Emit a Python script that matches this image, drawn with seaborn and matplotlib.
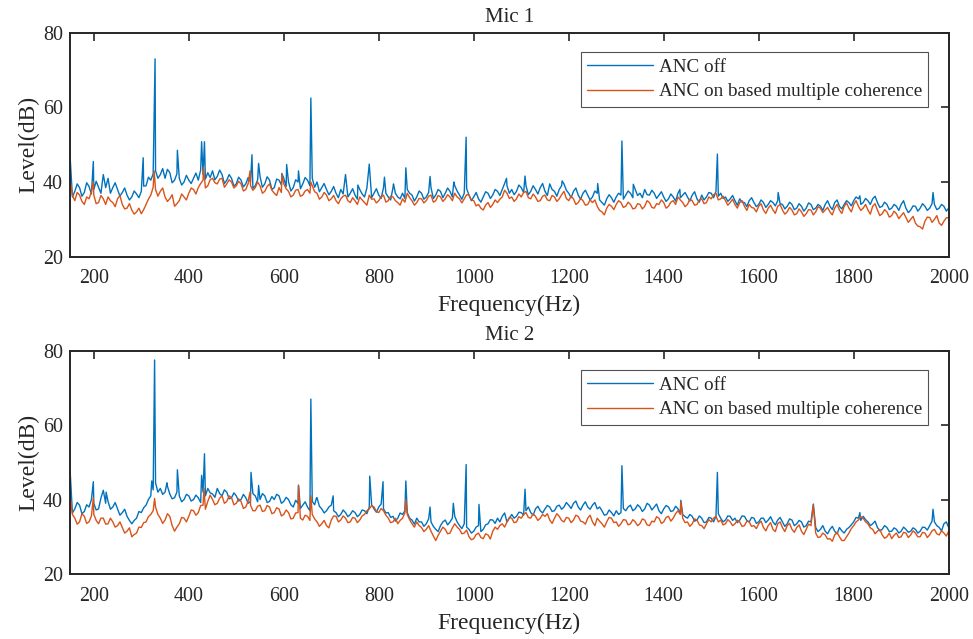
import numpy as np
import pandas as pd
import matplotlib
matplotlib.use("Agg")
import matplotlib.pyplot as plt
import seaborn as sns

# frequency grid (Hz), 5 Hz steps; narrow tonal peaks are listed separately
freq = np.arange(150, 2001, 5)

# ---- Mic 1 ----  (one row = 100 Hz)
mic1_off = [
    47.0, 36.0, 37.5, 39.5, 38.5, 36.2, 37.2, 39.8, 38.8, 36.8, 38.0, 40.2, 38.6, 37.0, 42.0, 38.5, 41.0, 37.0, 38.5, 39.8,
    38.0, 36.2, 37.2, 38.4, 36.5, 35.2, 36.0, 37.6, 36.8, 35.8, 37.5, 38.9, 39.0, 41.3, 40.5, 42.2, 43.0, 41.0, 42.0, 43.6,
    41.0, 43.4, 42.5, 39.8, 40.5, 42.2, 41.0, 39.2, 40.0, 41.8, 40.5, 39.6, 41.0, 42.4, 40.5, 43.2, 42.0, 40.8, 42.5, 41.2,
    43.0, 40.6, 41.5, 43.2, 42.0, 39.6, 40.5, 42.0, 41.0, 38.9, 39.5, 41.3, 40.5, 38.7, 39.5, 41.2, 40.0, 38.3, 39.0, 40.6,
    41.5, 38.6, 39.5, 41.4, 40.5, 38.0, 38.5, 40.8, 40.5, 39.2, 41.0, 38.8, 40.0, 37.6, 38.5, 40.6, 40.0, 38.2, 39.5, 41.2,
    40.5, 39.0, 41.0, 38.6, 40.0, 37.4, 38.5, 39.6, 38.0, 36.6, 37.5, 38.8, 37.0, 35.8, 38.0, 36.8, 39.5, 36.0, 37.0, 38.2,
    36.5, 35.4, 38.0, 36.8, 36.0, 38.4, 37.5, 35.8, 37.0, 38.2, 36.5, 35.6, 38.5, 37.0, 36.0, 35.2, 38.5, 37.0, 36.0, 35.5,
    37.0, 35.6, 38.0, 37.0, 36.5, 34.9, 36.0, 37.6, 37.0, 35.4, 36.0, 37.2, 38.5, 35.6, 36.5, 38.0, 37.5, 35.8, 37.0, 38.4,
    37.5, 36.0, 39.0, 37.6, 36.5, 35.4, 37.0, 38.2, 36.5, 35.0, 36.0, 37.2, 35.5, 34.6, 36.0, 37.4, 37.0, 35.6, 36.5, 38.0,
    37.5, 36.4, 38.0, 39.6, 39.0, 37.0, 38.0, 36.6, 37.5, 39.2, 38.5, 37.2, 39.0, 36.6, 37.5, 39.0, 38.0, 36.8, 38.5, 39.6,
    37.5, 36.4, 39.5, 38.0, 37.5, 36.2, 38.0, 39.0, 39.5, 37.8, 37.0, 35.8, 37.5, 38.4, 36.5, 35.4, 37.0, 37.8, 36.5, 35.2,
    36.0, 37.6, 37.0, 35.2, 34.5, 33.8, 35.5, 36.6, 35.8, 34.6, 36.0, 37.0, 36.5, 35.4, 36.5, 37.6, 37.0, 35.8, 38.0, 36.4,
    37.0, 35.8, 38.0, 36.6, 36.5, 37.8, 37.0, 35.6, 36.5, 37.4, 36.0, 34.8, 35.5, 36.8, 36.0, 34.9, 37.0, 35.8, 36.5, 37.2,
    36.0, 34.9, 36.5, 37.4, 35.5, 34.6, 36.5, 35.2, 36.0, 37.2, 37.0, 35.8, 37.5, 36.2, 37.0, 35.6, 36.0, 34.8, 35.5, 36.4,
    35.0, 33.8, 35.5, 34.6, 34.5, 33.4, 35.0, 35.8, 34.5, 33.4, 34.0, 35.2, 34.5, 33.2, 34.0, 35.0, 34.5, 33.6, 35.0, 34.2,
    34.0, 32.8, 33.5, 34.6, 34.0, 32.6, 33.0, 34.2, 33.5, 32.2, 33.0, 34.4, 34.0, 32.6, 33.0, 34.0, 33.5, 32.4, 34.0, 35.0,
    33.5, 32.6, 34.5, 35.2, 33.5, 32.8, 34.0, 35.0, 34.5, 33.6, 35.0, 36.0, 35.5, 34.0, 34.5, 35.6, 35.0, 34.0, 35.5, 36.2,
    34.5, 33.2, 33.5, 34.6, 34.0, 32.6, 33.0, 34.0, 33.5, 32.4, 34.0, 35.0, 33.0, 31.8, 32.5, 33.6, 33.5, 32.2, 33.0, 34.2,
    33.5, 32.4, 33.0, 34.2, 34.0, 32.6, 33.0, 34.0, 33.5, 32.2, 33.0,
]
mic1_off_peak_f = [199, 304, 329, 376, 427, 433, 533, 547, 596, 606, 631, 657, 730,
                   756, 780, 812, 831, 857, 908, 958, 984, 1069, 1108, 1186, 1261,
                   1312, 1336, 1434, 1513, 1641, 1813, 1967]
mic1_off_peak_v = [45.5, 46.5, 73.0, 48.5, 50.8, 50.8, 47.3, 45.0, 42.3, 44.7, 43.0, 62.5, 42.0,
                   39.2, 44.8, 41.3, 39.5, 43.8, 41.5, 40.0, 52.0, 41.0, 41.6, 40.3, 39.6,
                   51.0, 39.4, 38.0, 47.5, 37.2, 36.3, 37.2]

mic1_on = [
    40.5, 36.4, 35.0, 37.2, 36.5, 34.8, 34.0, 36.0, 35.5, 37.4, 36.5, 34.2, 34.5, 36.4, 35.5, 34.0, 36.0, 35.0, 34.5, 33.4,
    35.5, 36.4, 34.0, 32.8, 33.0, 34.2, 32.5, 31.4, 32.0, 33.0, 31.5, 32.6, 34.0, 35.4, 36.5, 38.6, 38.0, 36.2, 37.5, 38.4,
    36.0, 34.8, 35.5, 36.6, 33.5, 34.2, 35.0, 36.8, 36.0, 35.2, 37.0, 38.4, 38.0, 36.8, 38.5, 39.6, 40.5, 38.4, 39.0, 40.6,
    41.0, 39.8, 39.5, 40.8, 41.0, 38.6, 39.5, 40.6, 40.0, 38.4, 39.0, 40.2, 39.5, 37.6, 38.0, 39.6, 39.0, 37.8, 38.5, 40.0,
    39.0, 37.0, 37.5, 38.8, 39.5, 37.8, 37.0, 36.4, 38.5, 37.2, 39.5, 38.2, 37.5, 36.0, 36.5, 37.8, 38.0, 36.2, 36.5, 37.6,
    38.0, 37.0, 39.0, 37.4, 37.0, 35.4, 36.0, 37.2, 36.5, 35.0, 35.5, 36.4, 35.0, 34.2, 35.5, 36.2, 36.5, 35.0, 34.5, 35.8,
    35.0, 34.0, 36.0, 35.2, 34.5, 33.8, 36.5, 35.4, 35.5, 34.4, 35.0, 36.0, 36.5, 34.6, 35.0, 36.2, 36.0, 35.0, 34.5, 33.8,
    35.5, 34.6, 37.0, 35.8, 35.0, 33.8, 34.5, 35.6, 35.5, 34.4, 35.0, 36.2, 36.5, 34.6, 35.0, 36.4, 36.0, 34.8, 35.5, 36.6,
    36.0, 35.0, 37.0, 36.0, 35.5, 34.4, 35.5, 36.6, 36.5, 35.2, 35.0, 33.6, 34.0, 33.0, 32.5, 33.8, 34.5, 33.2, 34.0, 35.2,
    34.5, 35.4, 36.0, 37.8, 37.0, 35.6, 36.0, 34.8, 35.5, 36.8, 36.0, 37.2, 37.5, 35.8, 35.5, 36.8, 36.0, 34.8, 35.0, 36.2,
    36.5, 35.2, 35.0, 36.4, 36.0, 34.8, 35.5, 36.6, 37.5, 35.6, 35.0, 36.2, 35.5, 34.0, 34.5, 35.6, 35.0, 33.8, 34.0, 35.2,
    34.5, 35.2, 33.5, 32.4, 32.0, 31.2, 33.0, 34.0, 33.5, 32.6, 34.0, 35.0, 34.5, 33.2, 33.5, 34.6, 34.0, 32.8, 33.0, 34.2,
    34.0, 32.8, 33.5, 35.0, 34.5, 33.2, 33.0, 34.2, 34.0, 35.2, 34.5, 33.0, 33.5, 34.6, 35.0, 34.0, 36.0, 35.2, 34.5, 33.4,
    34.0, 35.4, 35.0, 33.8, 34.0, 35.2, 35.5, 34.2, 34.5, 36.0, 35.5, 36.6, 37.0, 35.2, 35.5, 36.2, 35.0, 33.8, 34.5, 35.4,
    34.0, 33.0, 34.5, 35.0, 33.5, 32.4, 34.0, 33.2, 33.0, 32.0, 33.5, 34.2, 32.5, 31.6, 33.0, 33.8, 32.5, 31.6, 33.5, 34.0,
    32.5, 31.4, 32.0, 33.2, 32.5, 31.2, 31.5, 32.8, 32.0, 30.8, 31.5, 32.6, 32.5, 31.2, 32.0, 33.4, 33.0, 31.8, 32.5, 33.2,
    32.0, 31.2, 33.0, 34.0, 32.5, 31.6, 33.5, 34.4, 33.0, 32.0, 34.0, 35.0, 33.5, 32.4, 33.0, 34.0, 32.5, 31.4, 33.5, 34.2,
    32.5, 31.0, 31.5, 32.6, 32.0, 30.6, 31.0, 32.2, 31.5, 30.2, 31.0, 31.8, 30.5, 29.2, 30.0, 30.8, 29.0, 28.2, 28.0, 27.4,
    29.5, 30.6, 30.5, 29.2, 30.0, 31.0, 29.0, 28.4, 29.5, 30.4, 30.5,
]
mic1_on_peak_f = [199, 327, 431, 529, 596, 657]
mic1_on_peak_v = [40.0, 43.0, 44.0, 43.0, 42.0, 40.0]

# ---- Mic 2 ----
mic2_off = [
    48.0, 36.4, 37.5, 39.2, 38.5, 36.2, 36.8, 38.6, 38.0, 40.0, 39.0, 37.2, 37.5, 40.4, 42.5, 39.0, 39.5, 37.4, 38.0, 39.2,
    37.5, 35.8, 36.5, 37.4, 35.5, 34.4, 33.5, 34.4, 35.0, 36.8, 36.5, 37.8, 38.5, 40.0, 41.0, 42.6, 44.5, 42.0, 43.0, 41.4,
    42.0, 43.6, 41.5, 40.2, 40.5, 42.0, 41.0, 39.4, 40.0, 41.4, 41.0, 39.6, 40.0, 41.2, 40.5, 39.2, 42.0, 41.0, 43.0, 41.8,
    41.5, 40.6, 43.0, 41.6, 41.0, 42.6, 42.0, 40.2, 40.5, 41.8, 41.0, 39.6, 40.0, 41.4, 40.5, 39.0, 39.5, 41.6, 41.0, 39.4,
    40.0, 41.6, 41.0, 39.2, 39.5, 40.8, 40.0, 41.4, 41.0, 39.0, 39.5, 40.6, 40.0, 38.6, 38.0, 39.8, 39.0, 37.6, 38.5, 39.4,
    38.0, 37.0, 39.5, 38.6, 40.5, 38.2, 37.5, 36.4, 37.0, 38.0, 38.5, 37.0, 36.5, 35.4, 36.0, 37.2, 36.5, 35.4, 36.0, 37.0,
    36.5, 35.4, 36.0, 37.2, 37.0, 36.2, 38.0, 38.6, 37.5, 36.6, 38.0, 38.8, 37.5, 36.4, 36.5, 35.2, 35.5, 34.2, 35.0, 36.4,
    36.0, 37.0, 36.5, 35.0, 34.5, 33.4, 35.0, 34.0, 34.0, 32.8, 33.5, 34.8, 34.0, 32.8, 32.0, 31.4, 33.0, 34.0, 34.5, 33.2,
    34.0, 35.0, 35.5, 34.0, 33.0, 32.2, 33.5, 32.6, 32.0, 31.0, 31.5, 32.6, 33.0, 31.4, 32.0, 33.2, 33.5, 34.6, 34.5, 33.6,
    35.0, 34.0, 35.5, 36.4, 34.0, 35.0, 36.0, 35.0, 35.5, 36.6, 36.5, 35.8, 37.0, 38.0, 36.5, 35.8, 37.5, 38.2, 37.0, 36.4,
    37.5, 38.4, 38.0, 36.8, 37.0, 38.2, 38.5, 37.4, 38.0, 39.2, 38.5, 37.6, 39.0, 39.6, 38.0, 37.2, 38.5, 39.4, 38.0, 37.4,
    38.5, 39.2, 37.5, 38.0, 37.0, 35.8, 36.0, 37.2, 36.5, 35.6, 37.0, 36.0, 36.5, 37.6, 37.0, 38.0, 38.5, 37.0, 37.5, 38.6,
    38.0, 36.8, 37.5, 39.0, 38.5, 37.2, 38.0, 38.8, 37.0, 36.2, 37.5, 38.4, 38.0, 36.8, 37.0, 38.2, 37.5, 36.4, 36.0, 35.4,
    35.0, 36.0, 35.5, 34.2, 34.5, 35.6, 35.0, 33.8, 34.0, 35.2, 35.0, 34.0, 35.5, 36.2, 35.0, 34.0, 34.5, 35.6, 35.5, 34.4,
    35.0, 33.8, 34.5, 35.6, 35.5, 34.4, 34.0, 35.2, 35.0, 33.6, 34.0, 35.0, 35.0, 33.8, 34.5, 35.4, 34.0, 33.2, 34.5, 35.2,
    34.0, 32.8, 33.5, 34.8, 34.5, 33.0, 33.5, 34.4, 34.0, 32.6, 33.0, 34.2, 34.0, 33.0, 32.5, 31.4, 32.0, 33.0, 31.5, 30.8,
    32.0, 32.8, 31.5, 30.8, 32.5, 31.6, 31.0, 32.0, 32.5, 33.2, 34.0, 35.2, 35.0, 34.4, 35.5, 34.6, 34.0, 33.0, 33.5, 34.2,
    32.5, 31.6, 32.0, 33.0, 32.5, 31.4, 31.5, 32.4, 32.0, 31.0, 31.5, 32.6, 32.0, 31.2, 31.5, 32.4, 32.0, 31.0, 31.5, 32.6,
    32.5, 31.8, 33.0, 34.2, 34.0, 33.0, 32.5, 31.6, 33.5, 34.0, 32.5,
]
mic2_off_peak_f = [199, 226, 322, 328, 354, 376, 427, 433, 531, 547, 631, 657, 669, 704,
                   781, 809, 857, 908, 957, 984, 1011, 1108, 1312, 1436, 1513, 1715,
                   1813, 1967]
mic2_off_peak_v = [44.8, 42.0, 45.0, 77.5, 44.5, 48.0, 46.5, 52.3, 47.3, 43.8, 43.9, 67.0, 40.5, 41.0,
                   46.3, 44.8, 45.0, 38.0, 39.0, 49.4, 38.7, 42.8, 49.1, 39.8, 47.3, 38.8,
                   36.5, 37.4]

mic2_on = [
    41.0, 36.0, 35.0, 33.4, 34.0, 36.2, 35.5, 33.6, 34.0, 35.6, 36.0, 34.4, 33.5, 35.0, 35.0, 33.4, 33.5, 35.0, 34.0, 32.6,
    33.0, 34.0, 32.5, 31.0, 31.5, 32.4, 30.0, 30.6, 31.0, 32.6, 32.5, 33.8, 34.0, 35.4, 36.0, 37.0, 38.0, 36.0, 35.0, 33.6,
    34.5, 36.2, 35.5, 33.0, 31.5, 32.6, 33.5, 35.2, 35.0, 34.0, 35.5, 37.2, 37.0, 35.8, 36.5, 38.4, 38.5, 37.4, 39.5, 41.2,
    40.0, 38.6, 39.0, 40.4, 41.0, 39.0, 39.5, 41.0, 40.5, 38.6, 39.0, 40.2, 39.5, 37.6, 38.0, 39.6, 38.5, 37.0, 37.0, 38.2,
    38.5, 36.8, 37.0, 38.4, 38.0, 36.2, 36.5, 37.8, 37.5, 35.6, 36.0, 37.2, 36.5, 34.8, 35.0, 36.4, 36.5, 35.0, 34.5, 35.8,
    35.5, 34.4, 36.0, 34.8, 34.0, 32.8, 33.5, 34.4, 33.0, 32.4, 34.5, 35.6, 35.5, 34.0, 34.5, 35.6, 35.0, 33.8, 34.0, 35.2,
    35.0, 33.8, 34.5, 35.6, 36.0, 37.0, 37.5, 38.4, 38.0, 36.8, 36.5, 37.6, 37.0, 35.8, 35.0, 33.8, 34.0, 35.0, 33.5, 34.4,
    35.0, 36.4, 36.0, 34.6, 33.5, 32.6, 34.0, 33.0, 32.5, 31.4, 32.0, 33.0, 31.5, 30.2, 29.0, 30.4, 31.5, 32.6, 32.0, 30.8,
    31.0, 32.4, 33.5, 32.6, 32.0, 30.8, 31.0, 31.8, 30.0, 29.2, 29.5, 30.6, 31.0, 29.8, 29.5, 30.8, 30.5, 29.4, 31.5, 32.6,
    32.0, 33.0, 33.5, 32.6, 34.0, 35.2, 35.0, 33.8, 34.0, 35.4, 35.0, 36.0, 36.5, 35.2, 35.0, 36.2, 35.5, 34.4, 35.0, 36.0,
    35.5, 36.2, 34.5, 33.6, 35.0, 36.2, 35.5, 34.4, 34.0, 35.2, 35.0, 33.8, 34.5, 35.8, 35.5, 34.2, 34.0, 33.4, 35.0, 35.8,
    34.0, 33.0, 35.0, 34.2, 33.5, 32.6, 34.0, 35.2, 35.0, 33.8, 34.0, 32.8, 33.5, 34.6, 34.5, 33.2, 33.5, 34.6, 34.0, 33.0,
    33.5, 34.8, 34.5, 33.2, 33.0, 34.2, 34.0, 35.4, 35.0, 33.6, 34.0, 35.2, 35.5, 34.2, 35.0, 36.2, 37.0, 36.0, 35.0, 33.8,
    34.0, 32.8, 33.5, 34.8, 34.5, 33.2, 33.0, 32.2, 33.5, 34.6, 34.0, 35.0, 35.5, 34.0, 34.5, 33.2, 33.5, 34.6, 34.0, 33.0,
    33.5, 34.4, 34.0, 32.8, 33.0, 34.2, 34.0, 32.8, 33.0, 32.2, 33.5, 34.2, 32.5, 31.6, 33.0, 33.8, 32.0, 31.4, 33.5, 34.0,
    32.5, 31.4, 33.0, 33.6, 32.0, 31.2, 32.5, 33.2, 31.5, 30.6, 32.0, 33.4, 33.0, 32.0, 31.0, 29.8, 30.0, 31.0, 30.5, 29.4,
    29.5, 28.8, 30.5, 31.2, 30.0, 29.0, 29.0, 30.0, 31.0, 32.2, 33.0, 34.0, 34.5, 35.4, 35.0, 34.0, 33.5, 32.4, 32.0, 30.8,
    31.5, 32.0, 30.5, 29.6, 30.0, 31.0, 29.5, 30.4, 31.0, 29.8, 30.0, 31.2, 31.0, 29.8, 30.5, 31.6, 31.0, 30.0, 30.0, 31.2,
    31.0, 29.8, 30.5, 31.6, 32.0, 30.8, 30.5, 31.6, 31.0, 30.2, 31.5,
]
mic2_on_peak_f = [199, 328, 432, 529, 631, 657, 857, 1436, 1715]
mic2_on_peak_v = [40.5, 40.3, 43.0, 42.0, 43.7, 41.0, 40.0, 39.4, 38.5]

labels = ["ANC off", "ANC on based multiple coherence"]
colors = ["#0072BD", "#D95319"]


def build(base, pf, pv):
    s = pd.concat([pd.Series(base, index=freq), pd.Series(pv, index=pf)])
    s = s[~s.index.duplicated(keep="last")].sort_index()
    return s


sns.set_style("white")
plt.rcParams["font.family"] = ["Liberation Serif", "DejaVu Serif"]

fig = plt.figure(figsize=(9.73, 6.39), dpi=100)
ax1 = fig.add_axes([0.072, 0.5983, 0.903, 0.3505])
ax2 = fig.add_axes([0.072, 0.1017, 0.903, 0.3495])

panels = [
    (ax1, "Mic 1", (mic1_off, mic1_off_peak_f, mic1_off_peak_v), (mic1_on, mic1_on_peak_f, mic1_on_peak_v)),
    (ax2, "Mic 2", (mic2_off, mic2_off_peak_f, mic2_off_peak_v), (mic2_on, mic2_on_peak_f, mic2_on_peak_v)),
]

for ax, title, off, on in panels:
    frames = []
    for lab, d in zip(labels, [off, on]):
        s = build(*d)
        frames.append(pd.DataFrame({"freq": s.index, "level": s.values, "series": lab}))
    df = pd.concat(frames, ignore_index=True)
    sns.lineplot(data=df, x="freq", y="level", hue="series", palette=colors,
                 hue_order=labels, estimator=None, sort=False, linewidth=1.0, ax=ax)
    ax.set_xlim(150, 2000)
    ax.set_ylim(20, 80)
    ax.set_xticks(range(200, 2001, 200))
    ax.set_yticks([20, 40, 60, 80])
    ax.set_title(title, fontsize=15, pad=8)
    ax.set_xlabel("Frequency(Hz)", fontsize=17, labelpad=5)
    ax.set_ylabel("Level(dB)", fontsize=17, labelpad=3)
    ax.tick_params(direction="in", length=6, width=1.2, top=True, right=True,
                   labelsize=14.4)
    ax.tick_params(axis="x", pad=9)
    ax.tick_params(axis="y", pad=5)
    for sp in ax.spines.values():
        sp.set_visible(True)
        sp.set_color("#262626")
        sp.set_linewidth(1.4)
    leg = ax.legend(loc="upper right", bbox_to_anchor=(0.977, 0.914), fontsize=13.8,
                    frameon=True, fancybox=False, edgecolor="#262626",
                    handlelength=3.4, borderpad=0.35, labelspacing=0.36,
                    handletextpad=0.31, borderaxespad=0)
    leg.get_frame().set_linewidth(0.8)
    for h in leg.get_lines():
        h.set_linewidth(1.0)

fig.savefig("out.png", dpi=100, facecolor="white")
